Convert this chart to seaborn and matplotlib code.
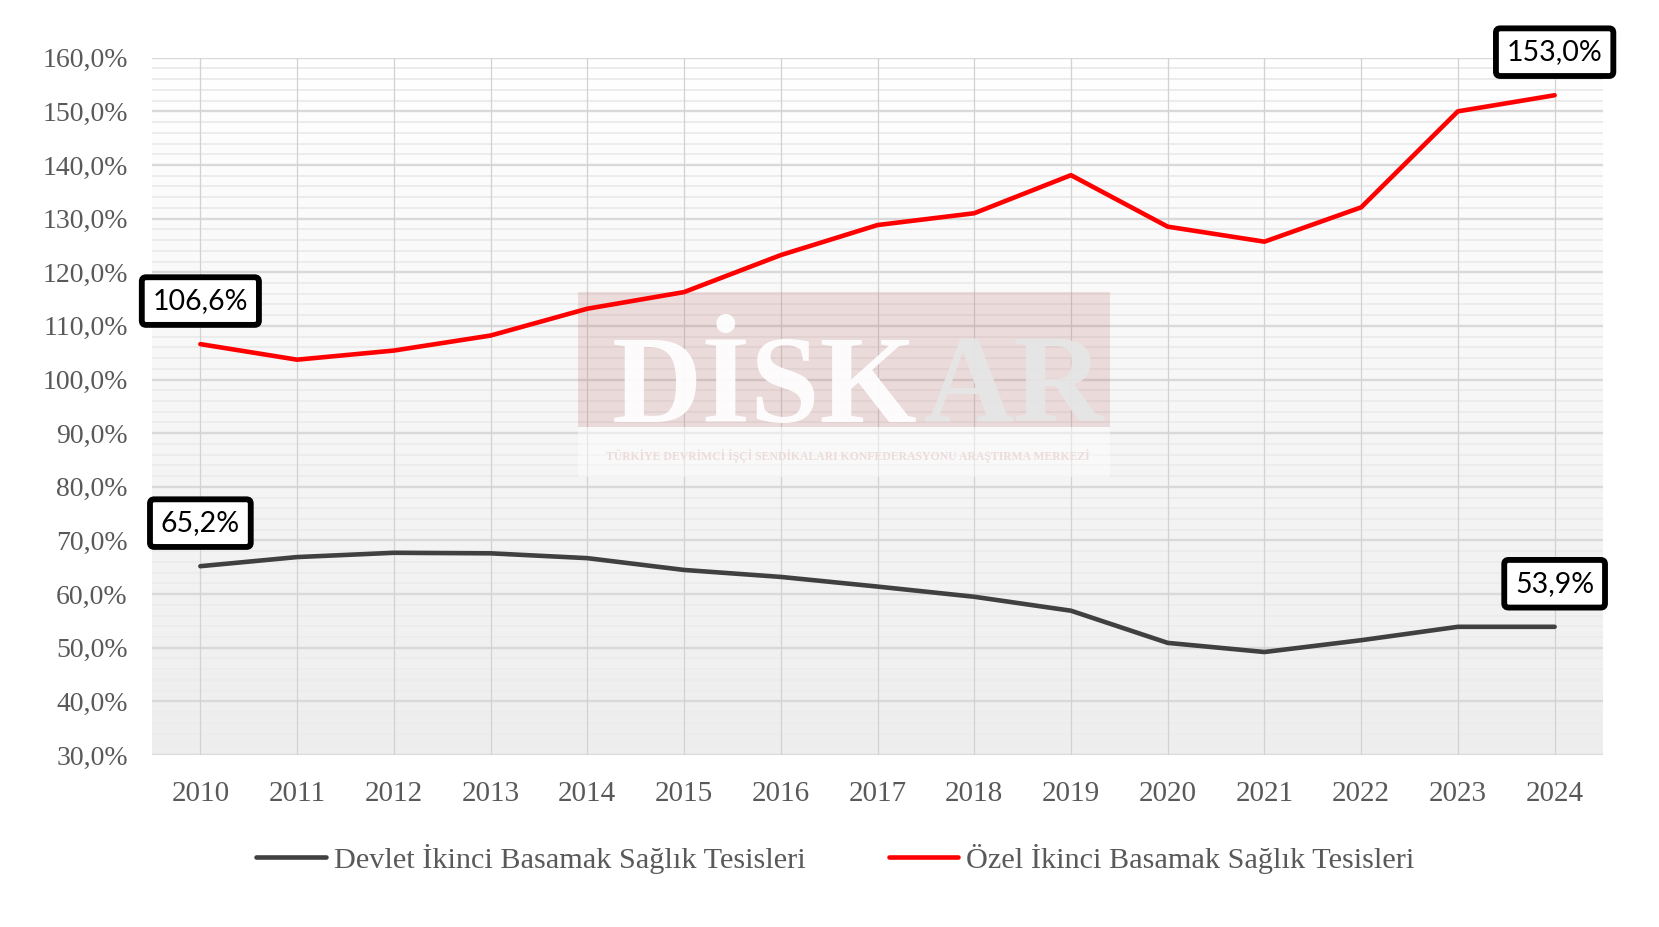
import matplotlib
matplotlib.use("Agg")
import numpy as np
import pandas as pd
import matplotlib.pyplot as plt
import seaborn as sns
from matplotlib import font_manager
from matplotlib.patches import Rectangle
from matplotlib.colors import LinearSegmentedColormap

# ---------------- data ----------------
years = list(range(2010, 2025))
devlet = [65.2, 66.9, 67.7, 67.6, 66.7, 64.5, 63.2, 61.4, 59.5, 56.9, 50.9, 49.2, 51.4, 53.9, 53.9]
ozel = [106.6, 103.7, 105.4, 108.2, 113.2, 116.3, 123.2, 128.8, 131.0, 138.1, 128.5, 125.7, 132.1, 150.0, 153.0]
series = ["Devlet İkinci Basamak Sağlık Tesisleri", "Özel İkinci Basamak Sağlık Tesisleri"]
y_ticks = [30, 40, 50, 60, 70, 80, 90, 100, 110, 120, 130, 140, 150, 160]
y_tick_labels = ["30,0%", "40,0%", "50,0%", "60,0%", "70,0%", "80,0%", "90,0%",
                 "100,0%", "110,0%", "120,0%", "130,0%", "140,0%", "150,0%", "160,0%"]
x_tick_labels = [str(y) for y in years]
watermark_main = "DİSK"
watermark_tail = "AR"
watermark_sub = "TÜRKİYE DEVRİMCİ İŞÇİ SENDİKALARI KONFEDERASYONU ARAŞTIRMA MERKEZİ"

# ---------------- style ----------------
colors = ["#404040", "#ff0000"]
W, H = 1659, 927

sns.set_theme(style="white")
plt.rcParams['font.family'] = ['Liberation Serif', 'DejaVu Serif']

installed = {f.name for f in font_manager.fontManager.ttflist}
narrow = 'Liberation Sans Narrow' in installed

df = pd.DataFrame({
    "Yıl": years * 2,
    "Oran": devlet + ozel,
    "Seri": [series[0]] * len(years) + [series[1]] * len(years),
})

fig = plt.figure(figsize=(W / 100, H / 100), dpi=100)
ax_left, ax_right, ax_top, ax_bottom = 152, 1603, 57.7, 755
ax = fig.add_axes([ax_left / W, 1 - ax_bottom / H, (ax_right - ax_left) / W, (ax_bottom - ax_top) / H])

# gradient background
cmap = LinearSegmentedColormap.from_list("bg", ["#ffffff", "#eeeeee"])
grad = np.linspace(0, 1, 256).reshape(-1, 1)
ax.imshow(grad, extent=[2009.5, 2024.5, 30, 160], aspect='auto', cmap=cmap,
          origin='upper', zorder=0.1, interpolation='bicubic')

sns.lineplot(data=df, x="Yıl", y="Oran", hue="Seri", hue_order=series,
             palette=dict(zip(series, colors)), linewidth=3.3, legend=False,
             ax=ax, zorder=3, solid_capstyle='round', solid_joinstyle='round')

ax.set_xlim(2009.5, 2024.5)
ax.set_ylim(30, 160)
ax.set_xticks(years, x_tick_labels)
ax.set_yticks(y_ticks, y_tick_labels)
ax.set_yticks(np.arange(30, 160, 2), minor=True)
ax.set_axisbelow(True)
ax.grid(which='minor', axis='y', color='#ececec', lw=1.4, linestyle='-')
ax.grid(which='major', axis='y', color='#d9d9d9', lw=1.7, linestyle='-')
ax.grid(which='major', axis='x', color='#d2d2d2', lw=0.9, linestyle='-')
ax.yaxis.set_zorder(0.4)
ax.xaxis.set_zorder(0.5)
ax.tick_params(which='both', length=0)
ax.tick_params(axis='x', pad=19, labelsize=21, labelcolor='#595959')
ax.tick_params(axis='y', pad=17.5, labelsize=20, labelcolor='#595959')
for s in ax.spines.values():
    s.set_visible(False)
ax.set_xlabel("")
ax.set_ylabel("")
ax.set_facecolor('white')

# ---------------- watermark ----------------
tf = fig.transFigure
def fx(px):
    return px / W
def fy(py):
    return 1 - py / H

ax.add_patch(Rectangle((fx(577.5), fy(426.7)), (1109.6 - 577.5) / W, (426.7 - 292) / H,
                       transform=tf, facecolor='#a83a3a', alpha=0.15, edgecolor='none',
                       zorder=1, clip_on=False))
ax.add_patch(Rectangle((fx(577.5), fy(477)), (1109.6 - 577.5) / W, (477 - 426.7) / H,
                       transform=tf, facecolor='white', alpha=0.45, edgecolor='none',
                       zorder=1, clip_on=False))
if narrow:
    wm_fam = ['Liberation Sans Narrow', 'DejaVu Sans']
    wm_size = 104
    sub_size = 9.5
else:
    wm_fam = ['Liberation Serif', 'DejaVu Serif']
    wm_size = 90
    sub_size = 8.5
t1 = ax.text(fx(612), fy(421.7), watermark_main, transform=tf, fontsize=wm_size,
             fontweight='bold', family=wm_fam, color='white', alpha=0.92,
             va='baseline', ha='left', zorder=1.2, clip_on=False)
ax.annotate(watermark_tail, xy=(1, 0), xycoords=t1, xytext=(4, 0), textcoords='offset points',
            fontsize=wm_size, fontweight='bold', family=wm_fam, color='#e6e6e6', alpha=0.92,
            va='bottom', ha='left', zorder=1.2, annotation_clip=False)
ax.text(fx(847.5), fy(456), watermark_sub, transform=tf, fontsize=sub_size, fontweight='bold',
        family=wm_fam, color='#ecd6d6', alpha=0.85, ha='center', va='center', zorder=1.2,
        clip_on=False)

# ---------------- callouts ----------------
def fmt(v):
    return f"{v:.1f}".replace('.', ',') + '%'

callouts = [(years[0], ozel[0]), (years[0], devlet[0]), (years[-1], ozel[-1]), (years[-1], devlet[-1])]
for yr, val in callouts:
    ax.annotate(fmt(val), xy=(yr, val), xytext=(0, 31), textcoords='offset points',
                ha='center', va='center', fontsize=20.5, family=['Lato', 'DejaVu Sans'],
                color='black', zorder=10, annotation_clip=False,
                bbox=dict(boxstyle='round,pad=0.38,rounding_size=0.15', fc='white',
                          ec='black', lw=4.2))

# ---------------- legend ----------------
handles = ax.get_lines()[:2]
fig.legend(handles, series, loc='center', bbox_to_anchor=(835.5 / W, 1 - 859 / H), ncol=2,
           frameon=False, fontsize=21.8, handlelength=2.3, handletextpad=0.26,
           columnspacing=2.75, borderpad=0, labelcolor='#595959')

fig.savefig("out.png", dpi=100)
